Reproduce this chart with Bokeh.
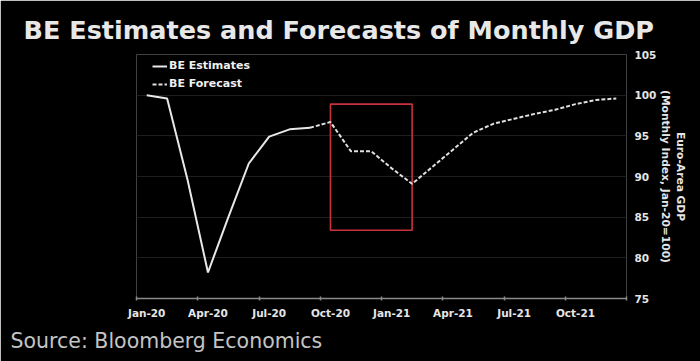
from bokeh.plotting import figure
from bokeh.embed import file_html
from bokeh.resources import INLINE
from bokeh.models import (ColumnDataSource, FixedTicker, Legend, LegendItem, Title)

# ---- data ----
months = ["Jan-20", "Feb-20", "Mar-20", "Apr-20", "May-20", "Jun-20", "Jul-20", "Aug-20",
          "Sep-20", "Oct-20", "Nov-20", "Dec-20", "Jan-21", "Feb-21", "Mar-21", "Apr-21",
          "May-21", "Jun-21", "Jul-21", "Aug-21", "Sep-21", "Oct-21", "Nov-21", "Dec-21"]
estimate_months = months[0:9]
estimate_values = [100.0, 99.6, 89.6, 78.2, 85.0, 91.6, 94.9, 95.8, 96.0]
forecast_months = months[8:24]
forecast_values = [96.0, 96.7, 93.1, 93.1, 91.0, 89.1, 91.2, 93.3, 95.4, 96.5,
                   97.1, 97.7, 98.2, 98.9, 99.4, 99.6]
tick_label_months = ["Jan-20", "Apr-20", "Jul-20", "Oct-20", "Jan-21", "Apr-21", "Jul-21", "Oct-21"]
y_ticks = [75, 80, 85, 90, 95, 100, 105]
highlight_months = ["Oct-20", "Feb-21"]
highlight_values = [83.4, 98.9]

title_text = "BE Estimates and Forecasts of Monthly GDP"
source_text = "Source: Bloomberg Economics"
y_title = "Euro-Area GDP\n(Monthly Index, Jan-20=100)"

idx = {m: i for i, m in enumerate(months)}

W, H = 700, 361
p = figure(width=W, height=H, output_backend="svg", toolbar_location=None,
           x_range=(-0.5, len(months) - 0.5), y_range=(75, 105),
           y_axis_location="right",
           min_border_left=136, min_border_right=74, min_border_top=54, min_border_bottom=63)
p.background_fill_color = "black"
p.border_fill_color = "black"
p.outline_line_color = None

p.title = Title(text=title_text, align="left", offset=-113, standoff=20,
                text_color="#e8e8e8", text_font="DejaVu Sans", text_font_style="bold",
                text_font_size="25.5px")
p.add_layout(Title(text=source_text, align="left", offset=-126, standoff=10,
                   text_color="#c4c4c4", text_font="DejaVu Sans", text_font_style="normal",
                   text_font_size="20.5px"), "below")

# grid
p.xgrid.grid_line_color = None
p.ygrid.grid_line_color = "#1e1e1e"
p.ygrid.ticker = FixedTicker(ticks=y_ticks)

# x axis
xa = p.xaxis[0]
xa.ticker = FixedTicker(ticks=[idx[m] for m in tick_label_months],
                        minor_ticks=[idx[m] - 0.5 for m in tick_label_months] + [len(months) - 0.5])
xa.major_label_overrides = {idx[m]: m for m in tick_label_months}
xa.axis_line_color = "#8a8a8a"
xa.axis_line_width = 1.5
xa.major_tick_line_color = None
xa.major_tick_in = 0
xa.major_tick_out = 0
xa.minor_tick_line_color = "#8a8a8a"
xa.minor_tick_line_width = 1.5
xa.minor_tick_in = 2
xa.minor_tick_out = 2
xa.major_label_standoff = 6
xa.major_label_text_color = "#e6e6e6"
xa.major_label_text_font = "DejaVu Sans"
xa.major_label_text_font_style = "bold"
xa.major_label_text_font_size = "10.5px"

# y axis
ya = p.yaxis[0]
ya.ticker = FixedTicker(ticks=y_ticks)
ya.axis_line_color = None
ya.major_tick_line_color = None
ya.major_tick_in = 0
ya.major_tick_out = 0
ya.minor_tick_line_color = None
ya.minor_tick_in = 0
ya.minor_tick_out = 0
ya.major_label_standoff = 8
ya.major_label_text_color = "#e6e6e6"
ya.major_label_text_font = "DejaVu Sans"
ya.major_label_text_font_style = "bold"
ya.major_label_text_font_size = "10.5px"
ya.axis_label = y_title
ya.axis_label_text_color = "#e6e6e6"
ya.axis_label_text_font = "DejaVu Sans"
ya.axis_label_text_font_style = "bold"
ya.axis_label_text_font_size = "10.7px"
ya.axis_label_text_line_height = 1.1
ya.axis_label_text_align = "center"
ya.axis_label_standoff = 0

# highlight box
p.quad(left=[idx[highlight_months[0]]], right=[idx[highlight_months[1]]],
       bottom=[highlight_values[0]], top=[highlight_values[1]],
       fill_color=None, line_color="#c8323c", line_width=1.6)

est = ColumnDataSource(dict(x=[idx[m] for m in estimate_months], y=estimate_values))
fc = ColumnDataSource(dict(x=[idx[m] for m in forecast_months], y=forecast_values))
r_est = p.line("x", "y", source=est, line_color="#e8e8e8", line_width=2)
r_fc = p.line("x", "y", source=fc, line_color="#e0e0e0", line_width=2, line_dash="4 2")

legend = Legend(items=[LegendItem(label="BE Estimates", renderers=[r_est]),
                       LegendItem(label="BE Forecast", renderers=[r_fc])],
                location=(16, 208), background_fill_alpha=0, border_line_color=None,
                label_text_color="#f0f0f0", label_text_font="DejaVu Sans",
                label_text_font_style="bold", label_text_font_size="11px",
                glyph_width=15, glyph_height=10, spacing=5, padding=0, margin=0,
                label_standoff=2)
p.add_layout(legend, "center")

open("out.html", "w").write(file_html(p, INLINE))
